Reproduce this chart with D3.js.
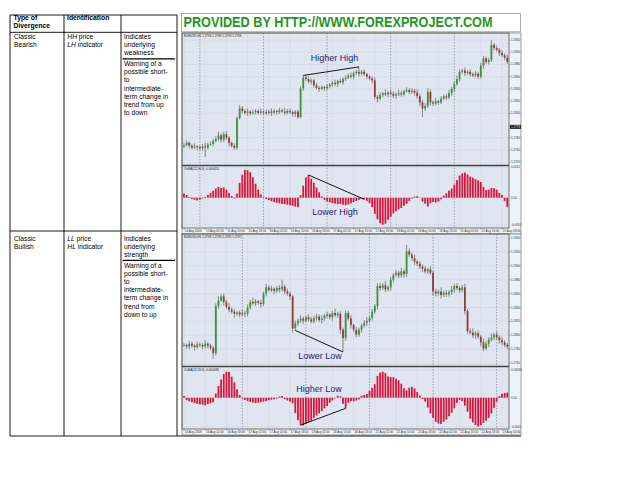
<!doctype html>
<html lang="en">
<head>
<meta charset="UTF-8">
<title>Classic divergence</title>
<script src="https://d3js.org/d3.v7.min.js"></script>
<style>
  body { margin: 0; background: #fff; }
  svg { display: block; font-family: "Liberation Sans", Arial, sans-serif; }
</style>
</head>
<body>
<div id="chart-area"></div>

<script>
// ---------- chart 1 (classic bearish): EURUSD H1, prices in pips above 1.2700 ----------
const open1 = 46;
const close1 = [
  48,52,47,44,46,45,43,46,44,49,
  50,55,58,64,57,66,60,52,47,44,
  92,108,
  104,101,103,100,102,104,101,103,102,100,103,101,104,102,105,103,101,104,102,99,103,94,
  141,159,156,152,154,
  146,142,140,143,141,144,
  147,150,148,153,151,156,
  158,162,160,166,168,165,
  168,164,160,157,154,
  127,124,
  130,133,131,134,132,129,131,
  133,131,136,138,135,137,
  134,128,118,
  108,112,135,118,
  116,120,118,
  124,128,126,133,
  140,148,156,168,
  170,166,168,164,
  162,165,160,
  178,190,
  184,187,
  212,
  207,204,199,195,191,184
];
const wickUp1 = [
  3,4,2,3,5,2,3,4,6,3, 4,3,5,6,3,4,5,3,2,4, 3,6,4,3,5,2,4,3,3,5,
  2,4,3,5,3,2,4,3,6,3, 4,3,2,3,3,3,4,5,3,2, 4,3,3,2,4,3,3,5,2,4,
  3,4,3,5,3,3,8,3,4,2, 3,4,5,3,4,2,6,3,5,4, 3,6,4,3,5,3,4,3,5,4,
  4,5,6,4,3,5,2,4,3,4, 5,3,4,6,4,3,5,3,4,3, 4,3,5,4,3,4,8,3,4,3,
  4,3,5
];
const wickDn1 = [
  3,2,4,3,2,5,3,4,15,3, 2,4,3,3,5,4,3,6,3,4, 3,2,4,3,5,3,2,4,3,3,
  4,3,2,5,3,4,3,2,4,3, 3,4,5,3,2,4,3,3,5,4, 3,5,2,4,3,3,4,3,5,2,
  4,3,2,3,4,3,5,3,3,4, 3,5,4,6,3,4,3,5,3,4, 5,3,4,3,2,4,3,5,4,6,
  14,4,3,5,4,3,4,3,2,4, 3,4,5,3,4,3,5,3,4,3, 3,4,3,5,3,4,3,4,3,5,
  3,4,3
];
// OsMA(12,26,9) in units of 0.0001
const osma1 = [
  1.5,1.0,0.3,-0.5,-0.8,-1.0,-0.7,-0.3,0.3,1.0,
  1.8,2.6,3.4,4.0,3.6,3.8,3.0,1.8,0.6,-0.3,
  1.5,5.5,8.5,10.3,10.2,9.4,7.5,5.2,3.0,1.2,
  0.2,-0.5,-0.9,-1.3,-1.6,-1.9,-2.1,-2.3,-2.4,-2.6,
  -2.8,-3.0,-3.3,-3.5,1.0,4.5,7.5,8.4,7.0,5.5,
  3.8,2.0,0.5,-0.8,-1.3,-1.7,-2.0,-2.2,-2.4,-2.3,
  -2.6,-2.8,-2.5,-2.1,-1.6,-1.2,-0.8,-0.5,-0.6,-1.2,
  -2.0,-3.5,-6.0,-8.0,-9.5,-10.0,-9.6,-8.2,-7.0,-5.8,
  -5.0,-4.3,-3.8,-3.0,-2.2,-1.2,-0.3,0.4,0.6,0.1,
  -1.5,-2.2,-3.3,-2.0,-1.6,-1.8,-1.4,-0.6,0.8,1.6,
  2.6,3.4,4.8,6.5,8.2,9.0,9.3,8.6,7.8,7.4,
  6.8,6.4,5.8,4.0,2.8,3.0,3.6,3.5,3.0,1.8,
  1.0,-1.2,-3.5
];
const priceTicks1 = [1.2920, 1.2900, 1.2880, 1.2860, 1.2840, 1.2820, 1.2800, 1.2760, 1.2740, 1.2720];
const lastPrice1 = 1.2778;
const osmaTicks1 = [11.4, 0, -10];
const osmaTickText1 = ['0.0011', '0.00', '-0.0010'];
const daySep1 = [6, 30, 54, 78, 102];
const dateText1 = ['14 Aug 2006', '15 Aug 02:00', '15 Aug 10:00', '15 Aug 18:00', '16 Aug 02:00',
  '16 Aug 10:00', '16 Aug 18:00', '17 Aug 02:00', '17 Aug 10:00', '17 Aug 18:00', '18 Aug 02:00',
  '18 Aug 10:00', '18 Aug 18:00', '21 Aug 02:00', '21 Aug 10:00', '21 Aug 18:00'];
const hhBars1 = [45, 66];   // higher high on price
const lhBars1 = [47, 68];   // lower high on OsMA

// ---------- chart 2 (classic bullish) ----------
const open2 = 85;
const close2 = [
  86,84,88,85,83,87,86,84,88,85,82,
  74,142,150,156,148,141,137,
  134,131,133,130,132,131,
  140,148,146,149,147,145,
  160,169,165,167,164,168,166,
  170,163,160,156,110,117,121,
  124,121,126,123,120,125,127,122,124,
  128,130,126,132,129,131,
  108,96,132,124,115,108,101,
  108,114,118,121,125,134,142,171,
  168,172,166,169,180,187,190,186,192,188,
  221,216,211,206,203,199,196,192,195,190,
  163,160,163,158,161,159,162,166,171,168,165,169,
  135,106,104,100,103,98,90,81,88,94,97,101,97,93,90,86,84
];
const wickUp2 = [
  3,2,4,3,2,4,3,3,5,2, 3,2,4,6,3,4,3,5,3,4, 2,3,5,3,4,3,6,3,2,4,
  3,5,3,4,2,3,4,10,3,4, 3,2,4,3,5,3,2,4,3,3, 4,3,5,3,4,2,3,6,3,4,
  3,4,3,5,2,4,3,3,4,5, 3,4,3,4,5,3,6,3,4,3, 4,3,5,3,9,4,3,5,3,4,
  3,4,2,5,3,4,3,6,3,4, 3,5,3,4,3,4,5,3,4,6, 3,4,3,5,4,3,6,3,4,3,
  4,3,3
];
const wickDn2 = [
  2,3,4,3,5,2,3,4,3,4, 3,8,3,4,2,5,3,4,3,6, 3,4,3,5,4,3,2,4,3,5,
  3,4,2,3,5,3,4,3,4,3, 5,6,3,4,3,5,2,4,3,3, 4,3,5,3,4,3,5,3,4,6,
  20,4,3,5,3,4,3,4,3,5, 3,4,3,5,4,3,4,3,5,4, 3,4,3,5,4,3,4,5,3,4,
  5,3,4,3,6,4,3,5,3,4, 3,4,5,3,4,3,5,4,3,4, 5,3,6,4,3,5,3,4,3,5,
  4,3,4
];
const osma2 = [
  0.6,-0.9,-1.3,-1.6,-1.9,-2.2,-2.4,-2.5,-2.7,-2.3,
  -2.0,-1.6,1.5,4.2,6.5,8.5,9.3,9.2,7.5,5.5,
  3.0,1.0,-0.3,-0.8,-1.2,-1.5,-1.7,-1.9,-1.8,-1.6,
  -1.4,-1.2,-0.9,-0.7,-0.5,-0.3,0.4,0.6,-0.5,-1.0,
  -1.4,-2.0,-5.5,-8.0,-9.8,-9.9,-9.4,-8.8,-8.2,-7.2,
  -6.4,-5.6,-4.8,-3.8,-3.0,-1.8,-1.0,-0.2,0.7,0.5,
  -2.2,-3.8,-1.8,-1.2,-1.3,-1.0,-0.6,0.7,1.0,1.3,
  2.4,3.5,4.8,7.8,9.0,9.3,8.8,7.6,7.4,7.3,
  6.8,6.2,5.0,3.4,2.6,3.6,3.9,3.3,2.0,0.8,
  -0.5,-1.4,-3.5,-5.6,-7.2,-8.6,-9.2,-9.4,-8.6,-7.8,
  -6.6,-5.4,-3.8,-1.8,-0.8,-1.2,-2.8,-5.0,-7.5,-8.8,
  -9.8,-10.2,-9.8,-9.0,-8.2,-7.2,-5.6,-3.6,-1.4,0.6,
  1.4,1.7,1.8
];
const priceTicks2 = [1.2940, 1.2920, 1.2900, 1.2880, 1.2860, 1.2840, 1.2820, 1.2800, 1.2780, 1.2760];
const osmaTicks2 = [9.9, 0, -10.36];
const osmaTickText2 = ['0.00099', '0.00', '-0.0010'];
const daySep2 = [22, 46, 70, 94, 118];
const dateText2 = ['16 Aug 2006', '16 Aug 10:00', '16 Aug 18:00', '17 Aug 02:00', '17 Aug 10:00',
  '17 Aug 18:00', '18 Aug 02:00', '18 Aug 10:00', '18 Aug 18:00', '21 Aug 02:00', '21 Aug 10:00',
  '21 Aug 18:00', '22 Aug 02:00', '22 Aug 10:00', '22 Aug 18:00', '23 Aug 02:00'];
const llBars2 = [42, 60];   // lower low on price
const hlBars2 = [44, 61];   // higher low on OsMA

// ---------- table text ----------
const rowText = [
  { type: ['Classic', 'Bearish'], ident: [['HH', ' price'], ['LH', ' indicator']],
    means: ['Indicates', 'underlying', 'weakness'],
    warn: ['Warning of a', 'possible short-', 'to', 'intermediate-', 'term change in', 'trend from up', 'to down'] },
  { type: ['Classic', 'Bullish'], ident: [['LL', ' price'], ['HL', ' indicator']],
    means: ['Indicates', 'underlying', 'strength'],
    warn: ['Warning of a', 'possible short-', 'to', 'intermediate-', 'term change in', 'trend from', 'down to up'] }
];
const title = 'PROVIDED BY HTTP://WWW.FOREXPROJECT.COM';

// ====================================================================
const svg = d3.select('#chart-area')
  .append('svg')
  .attr('width', 625)
  .attr('height', 483);

const line = (x1, y1, x2, y2, w = 0.9, c = '#000') =>
  svg.append('line').attr('x1', x1).attr('y1', y1).attr('x2', x2).attr('y2', y2)
    .attr('stroke', c).attr('stroke-width', w);

function textLines(x, y0, lh, arr, size, weight) {
  arr.forEach((t, k) => {
    const el = svg.append('text').attr('x', x).attr('y', y0 + k * lh)
      .attr('font-size', size).attr('font-weight', weight || 'normal').attr('fill', '#000');
    if (Array.isArray(t)) {
      el.append('tspan').attr('font-style', 'italic').text(t[0]);
      el.append('tspan').text(t[1]);
    } else el.text(t);
  });
}

function candles(close, firstOpen, up, dn) {
  return close.map((c, i) => {
    const o = i ? close[i - 1] : firstOpen;
    return {
      i,
      o: 1.27 + o / 1e4,
      c: 1.27 + c / 1e4,
      h: 1.27 + (Math.max(o, c) + up[i]) / 1e4,
      l: 1.27 + (Math.min(o, c) - dn[i]) / 1e4
    };
  });
}

function drawChart(cfg) {
  const { top, priceBottom, osmaTop, osmaBottom, dateBottom } = cfg;
  const left = 182, plotRight = 509, right = 521;
  const data = candles(cfg.close, cfg.open, cfg.up, cfg.dn);
  const n = data.length;

  const x = d3.scaleLinear().domain([0, n - 1]).range([184, 184 + 2.65 * (n - 1)]);
  const y = d3.scaleLinear().domain(cfg.priceDomain).range(cfg.priceRange);
  const yo = d3.scaleLinear().domain(cfg.osmaDomain).range(cfg.osmaRange);

  const g = svg.append('g');
  // backgrounds
  g.append('rect').attr('x', left).attr('y', top).attr('width', right - left).attr('height', dateBottom - top)
    .attr('fill', '#eef1f5');
  g.append('rect').attr('x', left).attr('y', top).attr('width', plotRight - left).attr('height', priceBottom - top)
    .attr('fill', '#dfe6ef');
  g.append('rect').attr('x', left).attr('y', osmaTop).attr('width', plotRight - left).attr('height', osmaBottom - osmaTop)
    .attr('fill', '#dfe6ef');

  const labelBars = d3.range(0, n, 8);
  // grid
  const grid = g.append('g').attr('stroke', '#c3cbd6').attr('stroke-width', 0.6).attr('stroke-dasharray', '1,1');
  grid.selectAll('line.h').data(cfg.priceTicks).join('line').attr('class', 'h')
    .attr('x1', left).attr('x2', plotRight).attr('y1', d => y(d)).attr('y2', d => y(d));
  grid.selectAll('line.ho').data(cfg.osmaTicks).join('line').attr('class', 'ho')
    .attr('x1', left).attr('x2', plotRight).attr('y1', d => yo(d)).attr('y2', d => yo(d));
  grid.selectAll('line.v').data(labelBars).join('line').attr('class', 'v')
    .attr('x1', d => x(d)).attr('x2', d => x(d)).attr('y1', top).attr('y2', priceBottom);
  grid.selectAll('line.vo').data(labelBars).join('line').attr('class', 'vo')
    .attr('x1', d => x(d)).attr('x2', d => x(d)).attr('y1', osmaTop).attr('y2', osmaBottom);
  // day separators
  g.append('g').attr('stroke', '#7d838d').attr('stroke-width', 0.7).attr('stroke-dasharray', '1.5,1.5')
    .selectAll('line').data(cfg.daySep).join('line')
    .attr('x1', d => x(d)).attr('x2', d => x(d)).attr('y1', top).attr('y2', osmaBottom);

  // candles
  g.append('g').selectAll('line').data(data).join('line')
    .attr('x1', d => x(d.i)).attr('x2', d => x(d.i))
    .attr('y1', d => y(d.h)).attr('y2', d => y(d.l))
    .attr('stroke', '#5b5b5b').attr('stroke-width', 0.7);
  g.append('g').selectAll('rect').data(data).join('rect')
    .attr('x', d => x(d.i) - 0.9).attr('width', 1.8)
    .attr('y', d => y(Math.max(d.o, d.c)))
    .attr('height', d => Math.max(0.7, Math.abs(y(d.o) - y(d.c))))
    .attr('fill', d => d.c > d.o ? '#3f903f' : d.c < d.o ? '#8f3c3c' : '#86c886');

  // OsMA histogram
  g.append('g').selectAll('rect').data(cfg.osma).join('rect')
    .attr('x', (d, i) => x(i) - 0.9).attr('width', 1.8)
    .attr('y', d => Math.min(yo(0), yo(d)))
    .attr('height', d => Math.abs(yo(d) - yo(0)))
    .attr('fill', '#dc143c');

  // frames
  g.append('rect').attr('x', left).attr('y', top).attr('width', right - left).attr('height', dateBottom - top)
    .attr('fill', 'none').attr('stroke', '#777').attr('stroke-width', 0.7);
  g.append('rect').attr('x', left).attr('y', top).attr('width', plotRight - left).attr('height', osmaBottom - top)
    .attr('fill', 'none').attr('stroke', '#555').attr('stroke-width', 0.8);
  g.append('line').attr('x1', left).attr('x2', plotRight).attr('y1', (priceBottom + osmaTop) / 2)
    .attr('y2', (priceBottom + osmaTop) / 2).attr('stroke', '#444').attr('stroke-width', 1.6);

  // right axis labels
  const ax = g.append('g').attr('font-size', 3).attr('fill', '#333');
  ax.selectAll('text.p').data(cfg.priceTicks).join('text').attr('class', 'p')
    .attr('x', 511).attr('y', d => y(d) + 1).text(d => d.toFixed(4));
  ax.selectAll('text.o').data(cfg.osmaTicks).join('text').attr('class', 'o')
    .attr('x', 511).attr('y', d => yo(d) + 1).text((d, k) => cfg.osmaTickText[k]);
  g.append('g').attr('stroke', '#555').attr('stroke-width', 0.5)
    .selectAll('line').data(cfg.priceTicks).join('line')
    .attr('x1', plotRight).attr('x2', plotRight + 1.5).attr('y1', d => y(d)).attr('y2', d => y(d));
  if (cfg.lastPrice) {
    g.append('rect').attr('x', plotRight + 1).attr('y', y(cfg.lastPrice) - 2).attr('width', 11).attr('height', 4)
      .attr('fill', '#111');
    g.append('text').attr('x', 511).attr('y', y(cfg.lastPrice) + 1).attr('font-size', 3).attr('fill', '#fff')
      .text(cfg.lastPrice.toFixed(4));
  }

  // date axis
  g.append('g').attr('font-size', 3).attr('fill', '#333')
    .selectAll('text').data(labelBars).join('text')
    .attr('x', d => x(d) + 0.8).attr('y', osmaBottom + 4.2).text((d, k) => cfg.dateText[k]);
  g.append('g').attr('stroke', '#555').attr('stroke-width', 0.5)
    .selectAll('line').data(labelBars).join('line')
    .attr('x1', d => x(d)).attr('x2', d => x(d)).attr('y1', osmaBottom).attr('y2', osmaBottom + 1.5);

  // headers
  g.append('text').attr('x', 184).attr('y', top + 3.5).attr('font-size', 3).attr('fill', '#222').text(cfg.header);
  g.append('text').attr('x', 184).attr('y', osmaTop + 3.5).attr('font-size', 3).attr('fill', '#222').text(cfg.osmaHeader);

  // annotations
  const ann = cfg.ann;
  const pts = ann.kind === 'price'
    ? ann.bars.map(b => [x(b), y(ann.useLow ? data[b].l : data[b].h)])
    : ann.bars.map(b => [x(b), yo(cfg.osma[b])]);
  g.append('line').attr('x1', pts[0][0]).attr('y1', pts[0][1]).attr('x2', pts[1][0]).attr('y2', pts[1][1])
    .attr('stroke', '#000').attr('stroke-width', 0.9);
  const ann2 = cfg.ann2;
  const pts2 = ann2.bars.map(b => [x(b), yo(cfg.osma[b])]);
  g.append('line').attr('x1', pts2[0][0]).attr('y1', pts2[0][1]).attr('x2', pts2[1][0]).attr('y2', pts2[1][1])
    .attr('stroke', '#000').attr('stroke-width', 0.9);
  [ann, ann2].forEach(a => {
    g.append('text').attr('x', a.tx).attr('y', a.ty).attr('text-anchor', 'middle')
      .attr('font-size', 9).attr('fill', '#24247e').text(a.label);
  });
}

// ---------- table ----------
const T = { l: 10, c1: 64, c2: 121, c3: 177, r: 521, top: 15, head: 32.3, row: 231, bottom: 436 };

svg.append('rect').attr('x', 181.5).attr('y', 13.5).attr('width', 339).attr('height', 18.3)
  .attr('fill', '#fff').attr('stroke', '#888').attr('stroke-width', 0.7);
svg.append('text').attr('x', 183.5).attr('y', 27.2).attr('font-size', 14.5).attr('font-weight', 'bold')
  .attr('fill', '#1f961f').attr('textLength', 309).attr('lengthAdjust', 'spacingAndGlyphs').text(title);

drawChart({
  top: 33, priceBottom: 165, osmaTop: 166, osmaBottom: 228, dateBottom: 234,
  close: close1, open: open1, up: wickUp1, dn: wickDn1, osma: osma1,
  priceDomain: [1.2720, 1.2920], priceRange: [162.3, 40],
  osmaDomain: [-10, 11.4], osmaRange: [224.7, 166.9],
  priceTicks: priceTicks1, lastPrice: lastPrice1,
  osmaTicks: osmaTicks1, osmaTickText: osmaTickText1,
  daySep: daySep1, dateText: dateText1,
  header: 'EURUSD,H1  1.2794 1.2798 1.2793 1.2798', osmaHeader: 'OsMA(12,26,9) -0.000024',
  ann: { kind: 'price', bars: hhBars1, label: 'Higher High', tx: 334.5, ty: 61.3 },
  ann2: { bars: lhBars1, label: 'Lower High', tx: 335, ty: 215 }
});

drawChart({
  top: 234, priceBottom: 366, osmaTop: 367, osmaBottom: 429, dateBottom: 435,
  close: close2, open: open2, up: wickUp2, dn: wickDn2, osma: osma2,
  priceDomain: [1.2760, 1.2940], priceRange: [363.1, 238],
  osmaDomain: [-10.36, 9.9], osmaRange: [426.7, 370],
  priceTicks: priceTicks2, lastPrice: null,
  osmaTicks: osmaTicks2, osmaTickText: osmaTickText2,
  daySep: daySep2, dateText: dateText2,
  header: 'EURUSD,H1  1.2798 1.2799 1.2785 1.2797', osmaHeader: 'OsMA(12,26,9) -0.000038',
  ann: { kind: 'price', bars: llBars2, useLow: true, label: 'Lower Low', tx: 320, ty: 358.5 },
  ann2: { bars: hlBars2, label: 'Higher Low', tx: 319, ty: 391.5 }
});

// table grid lines
line(T.l, T.top, T.c3, T.top);
line(T.l, T.head, T.c3, T.head);
line(T.l, T.row, T.c3, T.row);
line(T.l, T.bottom, T.r, T.bottom);
[T.l, T.c1, T.c2, T.c3].forEach(v => line(v, T.top, v, T.bottom));

// header row
textLines(13.5, 19.8, 8, ['Type of', 'Divergence'], 6.8, 'bold');
textLines(67, 19.8, 8, ['Identification'], 6.8, 'bold');

// body rows
[39, 240.5].forEach((y0, r) => {
  const d = rowText[r];
  textLines(14, y0, 8.2, d.type, 6.7);
  textLines(67.3, y0, 8.2, d.ident, 6.7);
  textLines(124, y0, 8.2, d.means, 6.7);
  const ruleY = y0 + 19.8;
  line(122.5, ruleY, 175, ruleY, 1.2);
  textLines(124, ruleY + 7.2, 8.2, d.warn, 6.7);
});
</script>
</body>
</html>
